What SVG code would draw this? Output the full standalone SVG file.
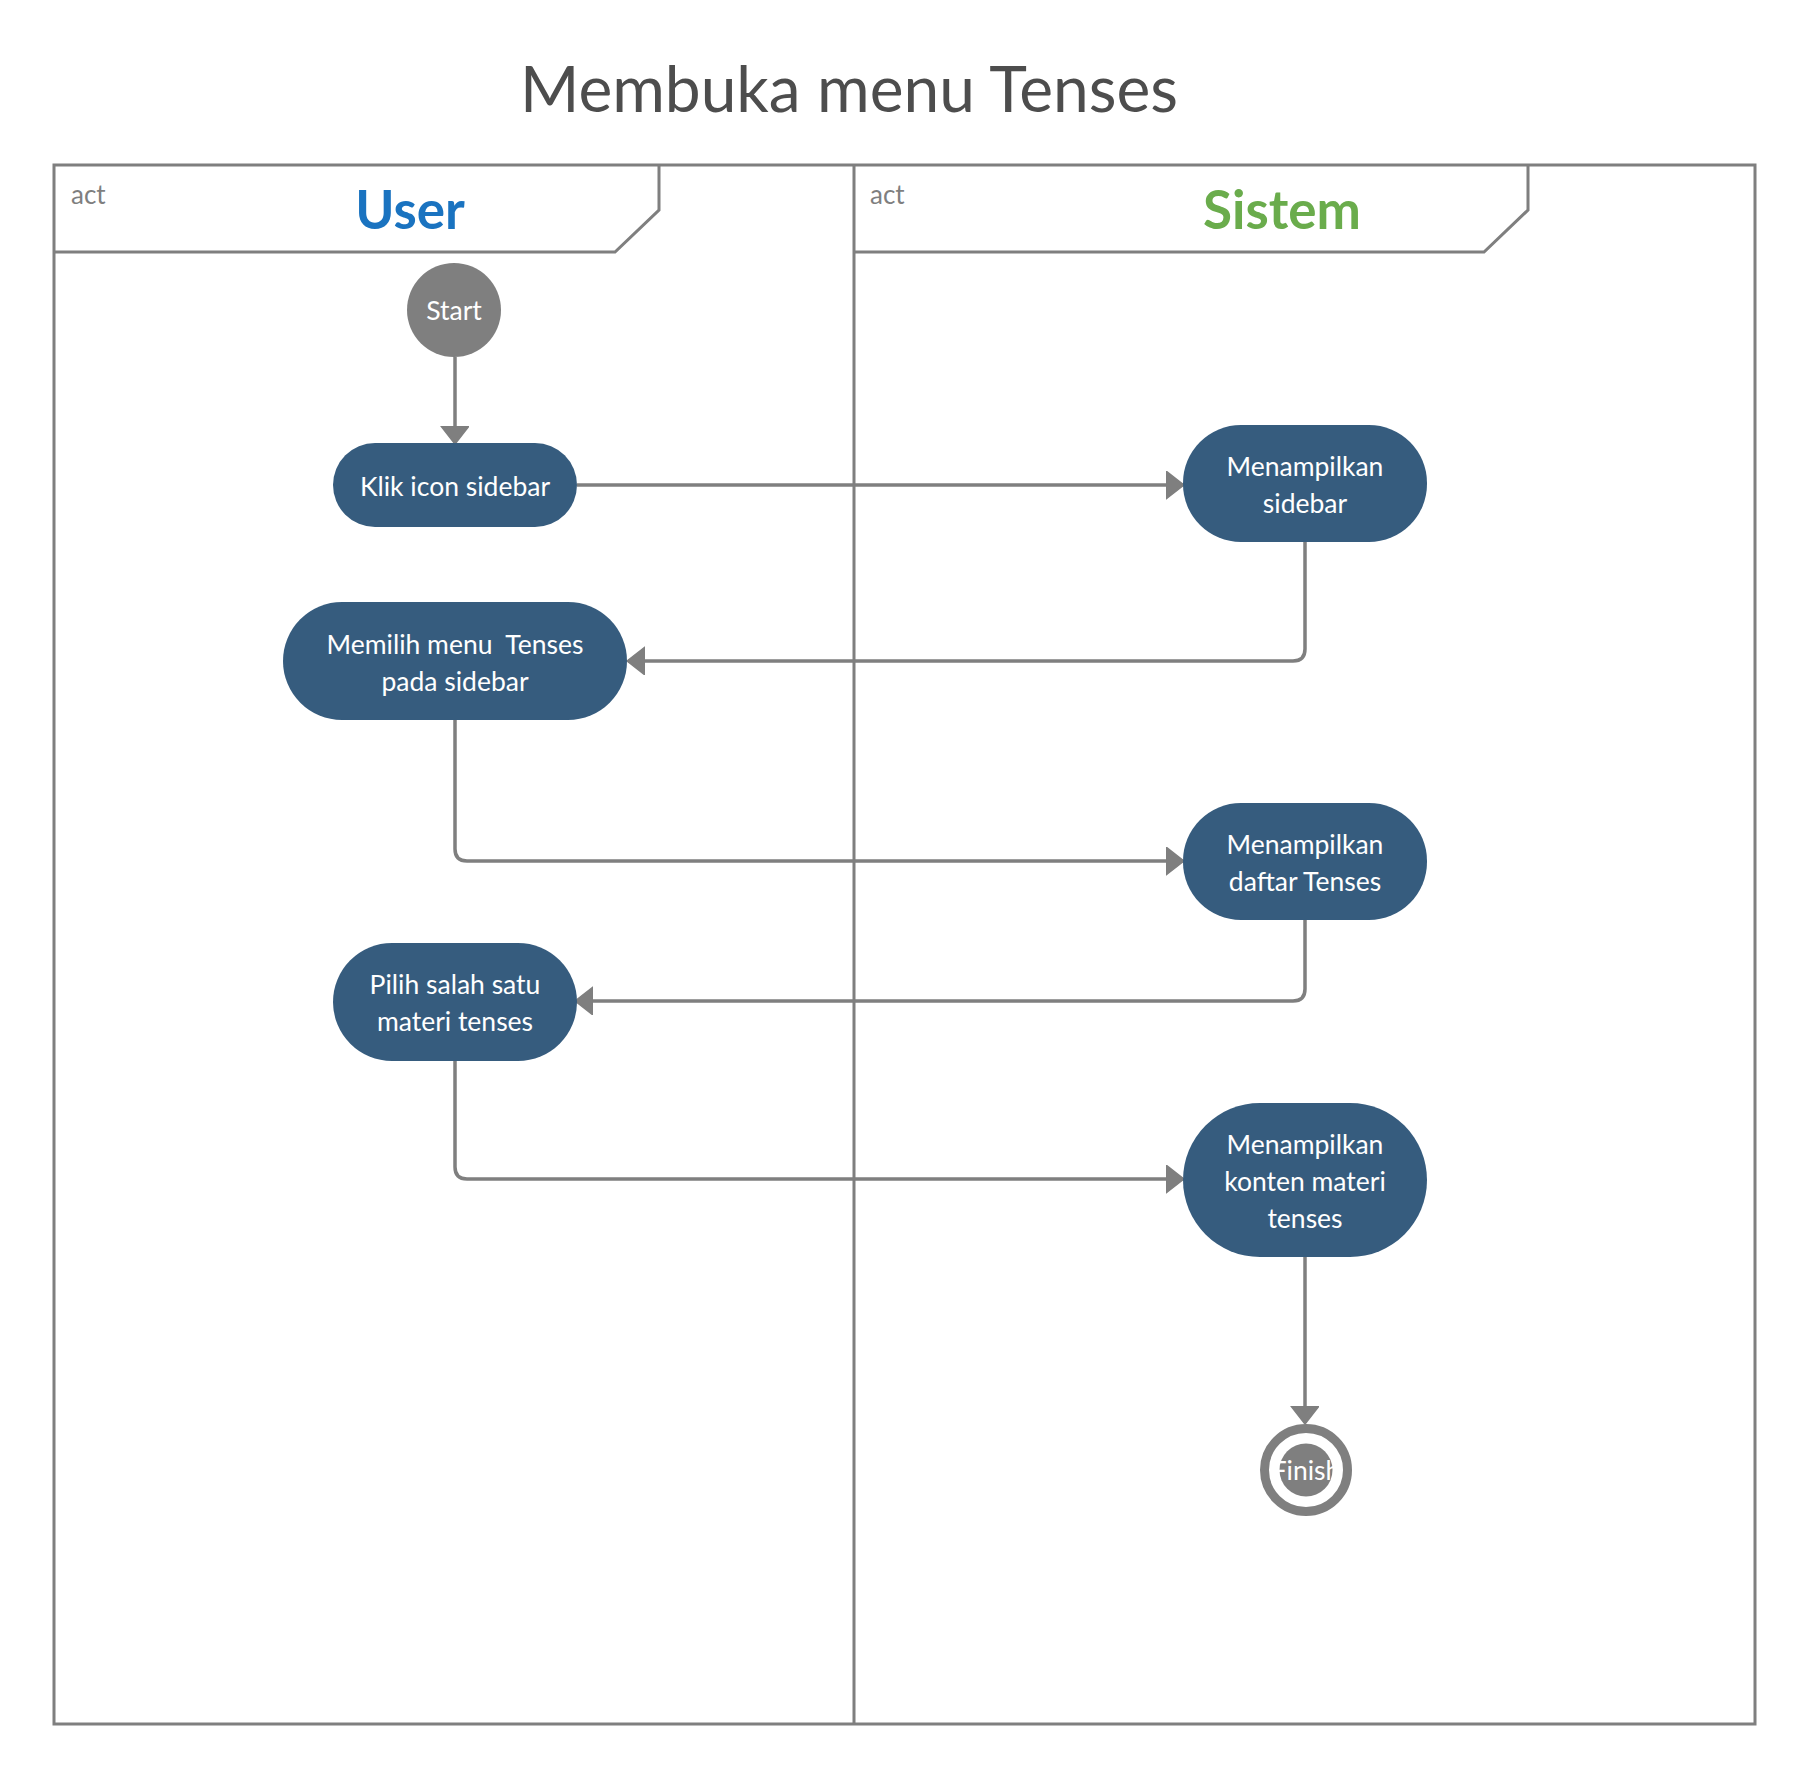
<svg xmlns="http://www.w3.org/2000/svg" width="1796" height="1765" viewBox="0 0 1796 1765">
<defs>
<style>
.frame{fill:none;stroke:#7f7f7f;stroke-width:3}
.act{font-family:Lato,"Liberation Sans",sans-serif;font-size:26px;fill:#7f7f7f}
.lane{font-family:Lato,"Liberation Sans",sans-serif;font-size:53px;font-weight:bold;text-anchor:middle}
.node{fill:#365c7e}
.nt{font-family:Lato,"Liberation Sans",sans-serif;font-size:26.5px;fill:#ffffff;text-anchor:middle}
.conn{fill:none;stroke:#7f7f7f;stroke-width:3.5;stroke-linejoin:round}
</style>
<marker id="arr" markerUnits="userSpaceOnUse" markerWidth="20" markerHeight="30" refX="17" refY="14" orient="auto">
<path d="M0,0 L18,14 L0,28 Z" fill="#7f7f7f" stroke="#7f7f7f" stroke-width="1.5" stroke-linejoin="round"/>
</marker>
</defs>
<rect width="1796" height="1765" fill="#ffffff"/>
<text x="849" y="112" font-family="Lato,'Liberation Sans',sans-serif" font-size="64" fill="#4d4d4d" text-anchor="middle">Membuka menu Tenses</text>
<g id="lanes">
<rect class="frame" x="54" y="165" width="1701" height="1559"/>
<line class="frame" x1="854" y1="165" x2="854" y2="1724"/>
<path class="frame" d="M54,252 H615 L659,210 V165"/>
<path class="frame" d="M854,252 H1484 L1528,210 V165"/>
<text class="act" x="71" y="204">act</text>
<text class="act" x="870" y="204">act</text>
<text class="lane" x="410" y="229" fill="#1a73c0">User</text>
<text class="lane" x="1282" y="229" fill="#6aac4c">Sistem</text>
</g>
<g id="connectors">
<path class="conn" d="M455,357 V443" marker-end="url(#arr)"/>
<path class="conn" d="M577,485 H1183" marker-end="url(#arr)"/>
<path class="conn" d="M1305,542 V649 Q1305,661 1293,661 H628" marker-end="url(#arr)"/>
<path class="conn" d="M455,720 V849 Q455,861 467,861 H1183" marker-end="url(#arr)"/>
<path class="conn" d="M1305,920 V989 Q1305,1001 1293,1001 H576" marker-end="url(#arr)"/>
<path class="conn" d="M455,1061 V1167 Q455,1179 467,1179 H1183" marker-end="url(#arr)"/>
<path class="conn" d="M1305,1257 V1423" marker-end="url(#arr)"/>
</g>
<g id="start">
<circle cx="454" cy="310" r="47" fill="#7f7f7f"/>
<text class="nt" x="454" y="320">Start</text>
</g>
<g id="klik">
<rect class="node" x="333" y="443" width="244" height="84" rx="42"/>
<text class="nt" x="455" y="496">Klik icon sidebar</text>
</g>
<g id="tampil-sidebar">
<rect class="node" x="1183" y="425" width="244" height="117" rx="58"/>
<text class="nt" x="1305" y="476">Menampilkan</text>
<text class="nt" x="1305" y="513">sidebar</text>
</g>
<g id="memilih">
<rect class="node" x="283" y="602" width="344" height="118" rx="59"/>
<text class="nt" x="455" y="654" xml:space="preserve">Memilih menu  Tenses</text>
<text class="nt" x="455" y="691">pada sidebar</text>
</g>
<g id="tampil-daftar">
<rect class="node" x="1183" y="803" width="244" height="117" rx="58"/>
<text class="nt" x="1305" y="854">Menampilkan</text>
<text class="nt" x="1305" y="891">daftar Tenses</text>
</g>
<g id="pilih">
<rect class="node" x="333" y="943" width="244" height="118" rx="59"/>
<text class="nt" x="455" y="994">Pilih salah satu</text>
<text class="nt" x="455" y="1031">materi tenses</text>
</g>
<g id="tampil-konten">
<rect class="node" x="1183" y="1103" width="244" height="154" rx="77"/>
<text class="nt" x="1305" y="1154">Menampilkan</text>
<text class="nt" x="1305" y="1191">konten materi</text>
<text class="nt" x="1305" y="1228">tenses</text>
</g>
<g id="finish">
<circle cx="1306" cy="1470" r="41.5" fill="#ffffff" stroke="#7f7f7f" stroke-width="9"/>
<circle cx="1306" cy="1470" r="26.5" fill="#7f7f7f"/>
<text class="nt" x="1306" y="1480">Finish</text>
</g>
</svg>
